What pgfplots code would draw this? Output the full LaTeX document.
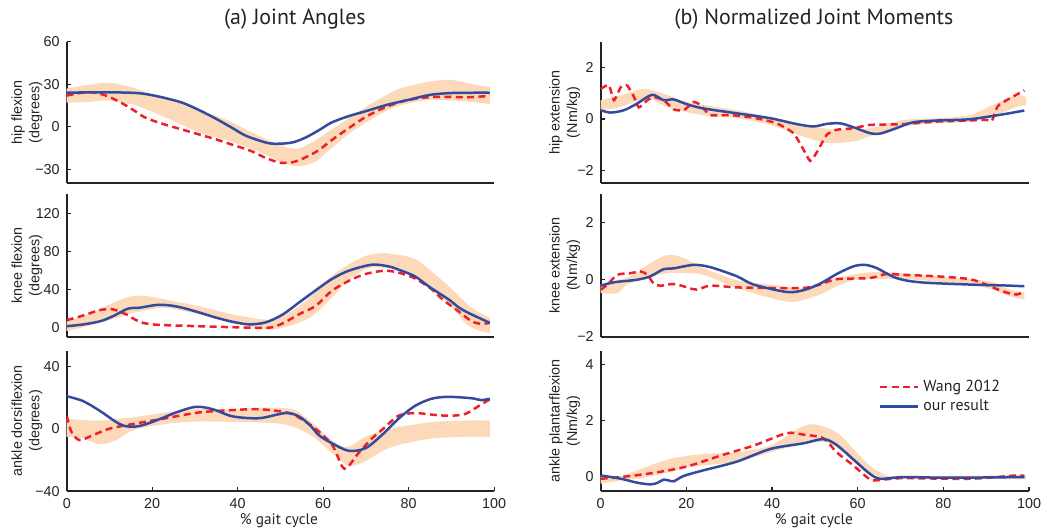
\documentclass[border=0pt]{standalone}
\usepackage{fontspec}
\setmainfont{Liberation Sans}
\newfontfamily\myr{PT Sans}
\usepackage{pgfplots}
\pgfplotsset{compat=1.18}
\usepgfplotslibrary{fillbetween}
\definecolor{band}{RGB}{252,217,184}
\definecolor{wred}{RGB}{240,30,40}
\definecolor{ourblue}{RGB}{50,75,160}
\definecolor{axc}{RGB}{35,35,35}
\pgfplotsset{
  base/.style={scale only axis, xmin=0, xmax=100,
    /pgf/number format/assume math mode=true,
    axis x line*=bottom, axis y line*=left,
    axis line style={line width=0.9pt, axc},
    tick style={line width=0.6pt, axc},
    tick align=inside, major tick length=2pt,
    ticklabel style={font=\fontsize{7.2}{8}\selectfont, text=axc},
    ylabel style={font=\fontsize{7.2}{8.8}\selectfont, align=center, anchor=center, text=axc},
  },
  topx/.style={xtick=\empty},
  botx/.style={xtick={0,20,40,60,80,100}},
  leftc/.style={width=214.5pt, ylabel style={at={(axis description cs:-0.093,0.5)}}},
  rightc/.style={width=215pt, ylabel style={at={(axis description cs:-0.084,0.5)}}},
  bandU/.style={draw=none, smooth, forget plot},
  ourl/.style={ourblue, line width=1.25pt, smooth, tension=0.5},
  wangl/.style={wred, line width=1.25pt, dash pattern=on 3.5pt off 2.2pt, smooth, tension=0.5},
}
\begin{document}
\begin{tikzpicture}

% ---------- (a) hip flexion
\begin{axis}[base, leftc, topx, at={(33.5pt,174.5pt)}, anchor=south west, height=71pt,
  ymin=-40, ymax=60, ytick={-30,0,30,60}, yticklabels={−30,0,30,60},
  ylabel={hip flexion\\(degrees)}]
\addplot[bandU, name path=U] coordinates {(0,27)(5,29.5)(10,31)(15,28)(19,24)(25,18)(31,12)(38,4)(44,-5)(50,-13)(54,-15.5)(58,-10)(62,-2)(66,6)(70,14)(74,21)(78,27)(85,32)(90,33)(95,30)(99,28)};
\addplot[bandU, name path=L] coordinates {(0,17)(5,17.5)(10,18.5)(15,16)(18,13)(25,4)(31,-4)(39,-11)(46,-19)(50,-25)(54,-28)(58,-25)(62,-15)(66,-5)(70,3)(74,10)(78,15)(85,19)(93,18)(99,16)};
\addplot[band, forget plot] fill between[of=U and L];
\addplot[wangl] coordinates {(0,22)(2.5,23.5)(5,24.5)(7.5,23.5)(10,21)(13,16.5)(16,11)(18,7)(20,4.5)(23,1.5)(27,-2)(31,-5.5)(35,-9)(39,-13)(43,-17)(46.5,-22)(50,-25.5)(53,-25)(56,-21.5)(59,-16.5)(62,-9.5)(66,-1)(70,7)(74,13)(78,17.5)(82,20)(86,21)(90,21)(94,20.8)(99,21.8)};
\addplot[ourl] coordinates {(0,24)(5,24.3)(10,24.3)(15,24)(18,23.3)(22,21)(27,17)(31,11.7)(35,5.5)(38.8,-1)(42,-6.5)(47,-11.5)(50,-12)(53,-11)(56,-7.5)(59,-2.5)(62,3)(66,7.5)(70,11)(75,15.5)(80,19)(85,22.5)(90,23.8)(95,24)(99,24)};
\end{axis}

% ---------- (a) knee flexion
\begin{axis}[base, leftc, topx, at={(33.5pt,97.5pt)}, anchor=south west, height=71.5pt,
  ymin=-10, ymax=140, ytick={0,40,80,120},
  ylabel={knee flexion\\(degrees)}]
\addplot[bandU, name path=U] coordinates {(0,6)(4,12)(7.7,18.8)(11,26)(15.5,33)(20,32)(23.2,29)(31,22)(38.8,13.5)(46.5,8)(50,11)(54.3,22)(58,36)(62,54)(66,66)(69.9,75)(73.7,78)(78,76)(81.5,72)(85,60)(89.3,43.5)(94.7,20.5)(99,10)};
\addplot[bandU, name path=L] coordinates {(0,-4)(4,0)(7.7,4.6)(11,9)(15.5,15)(20,19)(23.2,20.5)(31,13.5)(38.8,4.6)(46.5,-2.5)(50,-1)(54.3,4.6)(58,13.5)(62,31)(66,50)(69.9,61)(73,63)(77.6,61)(81.5,55)(85.4,40)(90,22)(93.2,4.6)(96,-3)(99,-6)};
\addplot[band, forget plot] fill between[of=U and L];
\addplot[wangl] coordinates {(0,7.4)(4,12.5)(7.7,18)(10.8,18.8)(13.9,13.5)(16,8)(17.8,4.6)(20,3)(23.2,2.1)(31,1)(38.8,0)(46.5,-0.7)(48.9,1)(51,5)(54.3,13.5)(58.2,22.3)(62,38.2)(66,48.8)(69.9,56)(74.5,59.5)(78,57)(81.5,51.3)(85.4,40)(88,29)(91.6,17)(94.7,6.4)(97,3.5)(99,4.6)};
\addplot[ourl] coordinates {(0,1)(4,3)(8,6.5)(11,12)(14.3,19.5)(17,20.5)(21,23.4)(24,23)(27,20.5)(31,15.5)(35,10)(39,5.5)(42.7,3)(46.5,5)(50.4,13)(54.3,25.8)(58,38)(62,50.6)(66,59.5)(71.4,65.8)(75.3,64)(78,60)(81.5,53.5)(85,42)(89.3,29.4)(92,20)(94.7,13.5)(99,4.6)};
\end{axis}

% ---------- (a) ankle dorsiflexion
\begin{axis}[base, leftc, botx, at={(33.5pt,20pt)}, anchor=south west, height=70.5pt,
  ymin=-40, ymax=50, ytick={-40,0,40}, yticklabels={−40,0,40},
  ylabel={ankle dorsiflexion\\(degrees)}]
\addplot[bandU, name path=U] coordinates {(0,6.3)(3.9,5.5)(7.7,5.2)(15.5,7.3)(23.2,10.4)(31,12.5)(38.8,12.5)(46.5,13.5)(52.8,12.5)(55.5,8)(58.2,2)(60.5,-4)(63.6,-10.4)(66,-11.5)(69.9,-5.2)(73.7,-1.5)(77.6,1)(85.4,4.2)(93.2,5.2)(99,5.2)};
\addplot[bandU, name path=L] coordinates {(0,-5.2)(3.9,-6.3)(7.7,-10)(11.6,-7.3)(15.5,-1)(23.2,3)(31,4.6)(46.5,3.8)(51.2,2.5)(55,-1)(58.2,-6.3)(62.1,-15.6)(66,-24)(69.9,-20.8)(73.7,-14.6)(77.6,-10.4)(85.4,-6.3)(93.2,-5.2)(99,-5.2)};
\addplot[band, forget plot] fill between[of=U and L];
\addplot[wangl] coordinates {(0,8.3)(1.1,-2)(3,-7.3)(6.1,-4.2)(10,0)(15.5,3)(23.2,6.7)(31,10.4)(38.8,11.9)(44.2,12.5)(48.9,11.5)(52.8,9.4)(55.5,5)(58.2,0)(62.1,-10.4)(64.4,-24)(65.6,-25)(68.3,-15.6)(71.4,-6.3)(74.5,1)(77.6,8.3)(81.5,10)(85.4,9)(89.3,8.3)(93.2,9.4)(97,15.6)(99,18.8)};
\addplot[ourl] coordinates {(0,20.8)(3.8,17.7)(7.7,11.5)(11.6,4.2)(13.9,1.5)(17,1.7)(20.9,5.2)(25.6,10.4)(30.2,14)(34.1,12.5)(38.8,7.9)(45,6.7)(51.2,10)(54.3,7.9)(57,2)(59,-4.2)(62.1,-9.4)(66,-14.2)(69.9,-12.5)(73.7,-4.2)(77.6,6.3)(81.5,14.6)(85.4,19.2)(89.3,20.4)(94.7,19.5)(97,18.3)(99,19.2)};
\end{axis}

% ---------- (b) hip extension
\begin{axis}[base, rightc, topx, at={(301.5pt,174.5pt)}, anchor=south west, height=71pt,
  ymin=-2.5, ymax=3, ytick={-2,0,2}, yticklabels={−2,0,2},
  ylabel={hip extension\\(Nm/kg)}]
\addplot[bandU, name path=U] coordinates {(0,0.73)(4.7,0.92)(10,1.17)(14.7,0.98)(20.2,0.66)(31.8,0.34)(39.6,0.06)(47.3,-0.23)(55.1,-0.42)(62.8,-0.36)(70.6,-0.04)(78.4,0.03)(86.1,0.15)(92.2,0.6)(97,0.92)(99.3,0.85)};
\addplot[bandU, name path=L] coordinates {(0,0.34)(4.7,0.47)(10.9,0.79)(16.3,0.41)(24,0.15)(31.8,0.03)(39.6,-0.23)(47.3,-0.68)(52.8,-0.93)(59,-0.87)(62.8,-0.68)(70.6,-0.29)(78.4,-0.17)(86.1,-0.1)(92.2,0.15)(97,0.47)(99.3,0.54)};
\addplot[band, forget plot] fill between[of=U and L];
\addplot[wangl, tension=0.3] coordinates {(0,1.17)(1.9,1.32)(3.1,0.73)(4.7,1.24)(6.2,1.3)(7.8,0.85)(8.9,0.45)(10.9,0.73)(12.4,0.85)(14.7,0.73)(17.1,0.37)(19.4,0.34)(21.7,0.66)(23.3,0.54)(25.6,0.15)(30.3,0.15)(35.7,0.05)(41.1,-0.17)(45,-0.55)(47.3,-1.18)(48.9,-1.63)(50.4,-1.31)(52.8,-0.61)(55.1,-0.42)(59,-0.36)(62.8,-0.23)(70.6,-0.2)(78.4,-0.1)(86.1,-0.06)(90,-0.03)(91.3,-0.08)(92.7,0.5)(95.4,0.79)(98.9,1.11)};
\addplot[ourl] coordinates {(0,0.34)(2.3,0.25)(5.4,0.34)(8.5,0.6)(12,0.94)(14.7,0.73)(17,0.76)(20.2,0.57)(24,0.41)(31.8,0.22)(39.6,0.03)(45.8,-0.2)(49.7,-0.29)(52.8,-0.19)(55.9,-0.17)(59,-0.32)(62.8,-0.55)(65.2,-0.57)(69,-0.36)(72.9,-0.13)(78.4,-0.06)(86.1,-0.01)(93.9,0.18)(98.9,0.33)};
\end{axis}

% ---------- (b) knee extension
\begin{axis}[base, rightc, topx, at={(301.5pt,97.5pt)}, anchor=south west, height=71.5pt,
  ymin=-2, ymax=3, ytick={-2,0,2}, yticklabels={−2,0,2},
  ylabel={knee extension\\(Nm/kg)}]
\addplot[bandU, name path=U] coordinates {(0,-0.17)(3,-0.05)(7,0.12)(10.9,0.52)(15.5,0.87)(19.4,0.76)(24,0.41)(31.8,-0.02)(39.6,-0.17)(47.3,-0.29)(55.1,0.06)(62.8,0.26)(70.6,0.23)(78.4,0.12)(86.1,0.02)(91.5,-0.09)(95.4,-0.35)(98.9,-0.44)};
\addplot[bandU, name path=L] coordinates {(0,-0.47)(3.9,-0.47)(6.2,-0.17)(10.9,0.06)(15.5,0.23)(19.4,0.23)(24,0.17)(31.8,-0.29)(39.6,-0.64)(45,-0.78)(51.2,-0.52)(55.1,-0.23)(59,-0.02)(62.8,0.02)(70.6,0.02)(78.4,-0.06)(86.1,-0.17)(91.5,-0.35)(95.4,-0.58)(98.9,-0.7)};
\addplot[band, forget plot] fill between[of=U and L];
\addplot[wangl] coordinates {(0,-0.35)(1.6,-0.17)(3.9,0.17)(7,0.23)(9.3,0.29)(10.9,0.17)(12.4,-0.14)(14,-0.21)(17.1,-0.15)(20.2,-0.27)(22.5,-0.35)(25.6,-0.21)(31.8,-0.27)(39.6,-0.29)(47.3,-0.29)(51.2,-0.17)(55.1,0.02)(62.8,0.06)(66.7,0.2)(70.6,0.17)(78.4,0.12)(86.1,0.02)(90,-0.17)(93.9,-0.41)(97,-0.52)(98.9,-0.41)};
\addplot[ourl] coordinates {(0,-0.21)(3.1,-0.09)(8.5,0)(11.6,0.12)(14.7,0.37)(17.1,0.4)(21.7,0.52)(25.6,0.44)(31.8,0.12)(35.7,-0.17)(43.4,-0.43)(47.3,-0.37)(51.2,-0.14)(55.1,0.2)(59,0.47)(61.7,0.52)(64.4,0.41)(69,0.06)(74.5,-0.09)(86.1,-0.17)(93.9,-0.2)(98.9,-0.23)};
\end{axis}

% ---------- (b) ankle plantarflexion
\begin{axis}[base, rightc, botx, at={(301.5pt,20pt)}, anchor=south west, height=70.5pt,
  ymin=-0.5, ymax=4.5, ytick={0,2,4},
  ylabel={ankle plantarflexion\\(Nm/kg)},
  legend style={draw=none, fill=none, at={(axis cs:63.5,3.75)}, anchor=north west,
    font=\myr\fontsize{8}{9}\selectfont, text=axc, row sep=-1.5pt},
  legend cell align=left,
  legend image code/.code={\draw[#1] (0pt,0pt) -- (19pt,0pt);}]
\addplot[bandU, name path=U] coordinates {(0,0.06)(4.7,0.04)(8.5,0.24)(16.3,0.65)(24,0.82)(31.8,0.88)(39.6,1.12)(46,1.71)(49.7,1.88)(55.1,1.59)(59,1)(62.8,0.41)(66.7,0.06)(70.6,0.04)(99.3,0.06)};
\addplot[bandU, name path=L] coordinates {(0,-0.24)(4.7,-0.12)(8.5,-0.06)(16.3,0.18)(20.2,0.35)(24,0.41)(31.8,0.55)(39.6,0.88)(47.3,1.18)(52.8,1.24)(56.6,0.88)(61.3,0.24)(65.2,-0.08)(70.6,-0.06)(99.3,-0.08)};
\addplot[band, forget plot] fill between[of=U and L];
\addplot[wangl] coordinates {(0,-0.06)(4.7,0)(12.4,0.15)(20.2,0.38)(27.9,0.76)(35.7,1.12)(43.4,1.56)(47.3,1.51)(52,1.38)(55.1,0.88)(59,0.41)(62.1,0)(63.6,-0.12)(66.7,-0.08)(70.6,-0.04)(86.1,-0.06)(95.4,0.04)(97.7,0.06)(98.9,0.04)};
\addlegendentry{Wang 2012}
\addplot[ourl] coordinates {(0,0.06)(4.7,-0.06)(8.5,-0.2)(11.6,-0.26)(13.2,-0.21)(14.7,-0.09)(16.3,-0.14)(17.1,-0.15)(19.4,0.04)(24,0.24)(31.8,0.55)(39.6,1)(47.3,1.2)(52,1.35)(55.1,1.14)(59.7,0.53)(62.8,0.12)(65.2,-0.06)(70.6,0)(78.4,-0.02)(86.1,-0.02)(98.9,0)};
\addlegendentry{our result}
\end{axis}

\node[font=\myr\fontsize{11}{13}\selectfont, text=axc] at (148pt,257pt) {(a) Joint Angles};
\node[font=\myr\fontsize{11}{13}\selectfont, text=axc] at (408.5pt,257pt) {(b) Normalized Joint Moments};
\node[font=\myr\fontsize{7.7}{9}\selectfont, text=axc] at (140pt,5pt) {\% gait cycle};
\node[font=\myr\fontsize{7.7}{9}\selectfont, text=axc] at (408.5pt,5pt) {\% gait cycle};
\pgfresetboundingbox
\path (0,0) rectangle (523pt,266.5pt);
\end{tikzpicture}
\end{document}
